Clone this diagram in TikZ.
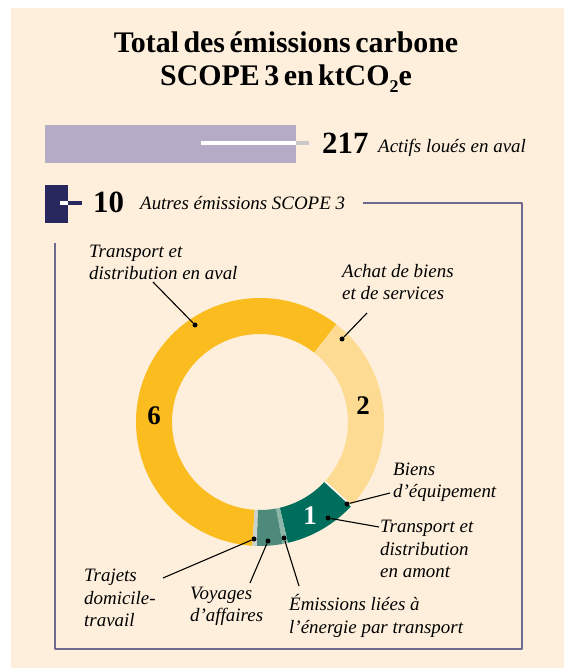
\documentclass[tikz,border=0pt]{standalone}
\usepackage{fontspec}
\setmainfont{Liberation Serif}
\newfontfamily\titlefont{Liberation Serif}[WordSpace=0.6]
\definecolor{cream}{HTML}{FDEFDC}
\definecolor{lavender}{HTML}{B5ABC7}
\definecolor{navy}{HTML}{28285E}
\definecolor{framecol}{HTML}{6F6A92}
\definecolor{stubgray}{HTML}{C8C8C8}
\definecolor{ringyellow}{HTML}{FBBC1F}
\definecolor{ringlight}{HTML}{FEDB92}
\definecolor{ringgreen}{HTML}{006E5C}
\definecolor{ringteal}{HTML}{4D8A7B}
\definecolor{ringpale}{HTML}{8DB6AA}
\definecolor{ringgray}{HTML}{C9D3CE}
\tikzset{
  label/.style={anchor=base west,inner sep=0pt,align=left,
    font=\fontsize{19}{23}\selectfont\itshape},
  bignum/.style={inner sep=0pt,font=\fontsize{31}{31}\selectfont\bfseries},
  ringnum/.style={inner sep=0pt,font=\fontsize{27}{27}\selectfont\bfseries},
  dot/.style={circle,fill=black,inner sep=0pt,minimum size=5bp},
  leader/.style={line width=1.1bp},
}
\begin{document}
\begin{tikzpicture}[line join=bevel]
        \useasboundingbox (0bp,0bp) rectangle (564bp,668bp);
        \fill [cream] (11bp,0bp) rectangle (564bp,660bp);
        %% title
        \node (title1) at (286bp,615bp) [anchor=base,inner sep=0pt,font=\titlefont\fontsize{30}{30}\selectfont\bfseries] {Total des émissions carbone};
        \node (title2) at (286bp,582bp) [anchor=base,inner sep=0pt,font=\titlefont\fontsize{30}{30}\selectfont\bfseries] {SCOPE 3 en ktCO\raisebox{-0.22em}{\fontsize{18}{18}\selectfont 2}e};
        %% bar 217
        \fill [lavender] (45bp,505bp) rectangle (296bp,543bp);
        \draw [white,line width=4.5bp] (201bp,525bp) -- (296bp,525bp);
        \draw [stubgray,line width=4.5bp] (296bp,525bp) -- (309bp,525bp);
        \node (n217) at (322bp,514bp) [bignum,anchor=base west] {217};
        \node (l217) at (378bp,515bp) [label] {Actifs loués en aval};
        %% bar 10
        \fill [navy] (45bp,445bp) rectangle (68bp,483bp);
        \draw [white,line width=4.5bp] (60bp,465bp) -- (68bp,465bp);
        \draw [navy,line width=4.5bp] (68bp,465bp) -- (82bp,465bp);
        \node (n10) at (93bp,455bp) [bignum,anchor=base west] {10};
        \node (l10) at (140bp,458bp) [label] {Autres émissions SCOPE 3};
        \draw [framecol,line width=1.6bp] (363bp,465bp) -- (522bp,465bp) -- (522bp,19bp) -- (55bp,19bp) -- (55bp,425bp);
        %% ring
        \begin{scope}[shift={(260bp,246bp)}]
        \fill [ringyellow] (52:124bp) arc[start angle=52,end angle=266.5,radius=124bp] -- (266.5:88bp) arc[start angle=266.5,end angle=52,radius=88bp] -- cycle;
        \fill [ringlight] (-42.5:124bp) arc[start angle=-42.5,end angle=52,radius=124bp] -- (52:88bp) arc[start angle=52,end angle=-42.5,radius=88bp] -- cycle;
        \fill [ringgreen] (-77:124bp) arc[start angle=-77,end angle=-42.5,radius=124bp] -- (-42.5:88bp) arc[start angle=-42.5,end angle=-77,radius=88bp] -- cycle;
        \fill [ringpale] (-79.5:124bp) arc[start angle=-79.5,end angle=-77,radius=124bp] -- (-77:88bp) arc[start angle=-77,end angle=-79.5,radius=88bp] -- cycle;
        \fill [ringteal] (-91.5:124bp) arc[start angle=-91.5,end angle=-79.5,radius=124bp] -- (-79.5:88bp) arc[start angle=-79.5,end angle=-91.5,radius=88bp] -- cycle;
        \fill [ringgray] (-93.5:124bp) arc[start angle=-93.5,end angle=-91.5,radius=124bp] -- (-91.5:88bp) arc[start angle=-91.5,end angle=-93.5,radius=88bp] -- cycle;
        \draw [white,line width=1.5bp] (-42.5:88bp) -- (-42.5:124bp);
        \end{scope}
        \node (v6) at (154bp,252bp) [ringnum] {6};
        \node (v2) at (363bp,262bp) [ringnum] {2};
        \node (v1) at (310bp,152bp) [ringnum,white] {1};
        %% labels (base = last line)
        \node (lAval) at (89bp,388bp) [label] {Transport et\\distribution en aval};
        \node (lAchat) at (342bp,368bp) [label] {Achat de biens\\et de services};
        \node (lBiens) at (393bp,170bp) [label] {Biens\\d’équipement};
        \node (lAmont) at (380bp,90bp) [label] {Transport et\\distribution\\en amont};
        \node (lTrajets) at (84bp,41bp) [label] {Trajets\\domicile-\\travail};
        \node (lVoyages) at (190bp,46bp) [label] {Voyages\\d’affaires};
        \node (lEnergie) at (289bp,35bp) [label] {Émissions liées à\\l’énergie par transport};
        %% dots and leaders
        \node (dAval) at (195bp,343bp) [dot] {};
        \node (dAchat) at (342bp,329bp) [dot] {};
        \node (dBiens) at (347bp,164bp) [dot] {};
        \node (dAmont) at (328bp,150bp) [dot] {};
        \node (dTrajets) at (254bp,129bp) [dot] {};
        \node (dVoyages) at (268bp,127bp) [dot] {};
        \node (dEnergie) at (284bp,130bp) [dot] {};
        \coordinate (eAval) at (153bp,386bp);
        \coordinate (eAchat) at (367bp,355bp);
        \coordinate (eBiens) at (390bp,175bp);
        \coordinate (eAmont) at (379bp,141bp);
        \coordinate (eTrajets) at (163bp,90bp);
        \coordinate (eVoyages) at (250bp,85bp);
        \coordinate (eEnergie) at (299bp,82bp);
        \draw [leader] (eAval) -- (dAval);
        \draw [leader] (eAchat) -- (dAchat);
        \draw [leader] (eBiens) -- (dBiens);
        \draw [leader] (eAmont) -- (dAmont);
        \draw [leader] (eTrajets) -- (dTrajets);
        \draw [leader] (eVoyages) -- (dVoyages);
        \draw [leader] (eEnergie) -- (dEnergie);
        %
    \end{tikzpicture}
\end{document}
